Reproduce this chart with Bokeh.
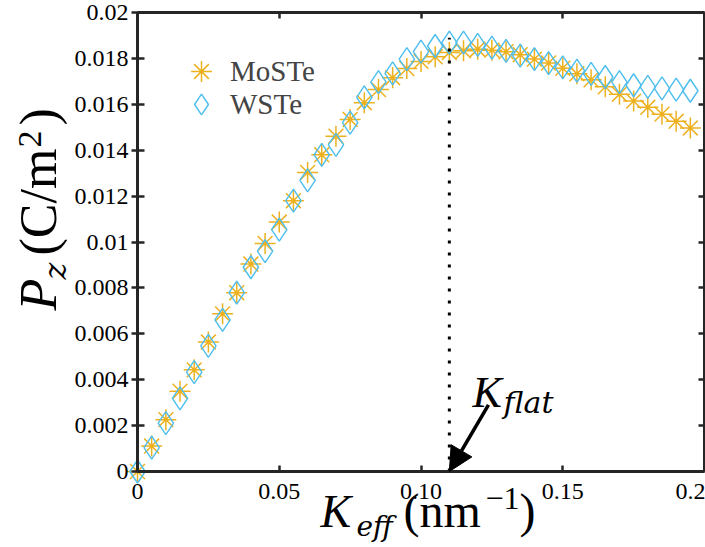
import math
from bokeh.plotting import figure
from bokeh.models import (Range1d, LinearAxis, FixedTicker, Label, Arrow,
                          NormalHead, Legend, LegendItem, CustomLabelingPolicy)
from bokeh.embed import file_html
from bokeh.resources import INLINE

# ---------------- data ----------------
k_eff = [0.000, 0.005, 0.010, 0.015, 0.020, 0.025, 0.030, 0.035, 0.040, 0.045,
         0.050, 0.055, 0.060, 0.065, 0.070, 0.075, 0.080, 0.085, 0.090, 0.095,
         0.100, 0.105, 0.110, 0.115, 0.120, 0.125, 0.130, 0.135, 0.140, 0.145,
         0.150, 0.155, 0.160, 0.165, 0.170, 0.175, 0.180, 0.185, 0.190, 0.195]
p_moste = [0.0, 0.00111, 0.00226, 0.0035, 0.00443, 0.00564, 0.00687, 0.00779, 0.00904, 0.00994,
           0.01087, 0.0118, 0.01303, 0.0138, 0.01461, 0.01534, 0.01607, 0.01664, 0.01716, 0.01756,
           0.01787, 0.01807, 0.01826, 0.01833, 0.0184, 0.01836, 0.01829, 0.01816, 0.01797, 0.0178,
           0.01757, 0.01733, 0.01707, 0.01676, 0.01644, 0.01614, 0.01587, 0.01557, 0.01526, 0.01497]
p_wste = [0.0, 0.00104, 0.00211, 0.00319, 0.00433, 0.00547, 0.00661, 0.00779, 0.0089, 0.0096,
          0.01054, 0.0118, 0.01269, 0.0138, 0.01423, 0.0152, 0.0163, 0.01697, 0.01735, 0.01797,
          0.0183, 0.01854, 0.01869, 0.01869, 0.01859, 0.01847, 0.01833, 0.01812, 0.01797, 0.01779,
          0.01761, 0.01747, 0.01733, 0.01719, 0.01697, 0.01683, 0.01676, 0.01669, 0.01664, 0.01659]
series_names = ["MoSTe", "WSTe"]

x_ticks = [0.0, 0.05, 0.10, 0.15, 0.2]
x_tick_labels = ["0", "0.05", "0.10", "0.15", "0.2"]
y_ticks = [0.0, 0.002, 0.004, 0.006, 0.008, 0.010, 0.012, 0.014, 0.016, 0.018, 0.020]
y_tick_labels = ["0", "0.002", "0.004", "0.006", "0.008", "0.01", "0.012", "0.014",
                 "0.016", "0.018", "0.02"]
x_lim = (0.0, 0.2)
y_lim = (0.0, 0.02)

k_flat = 0.11
k_flat_line_top = 0.0189
arrow_start = (0.1238, 0.0029)

# ---------------- layout / styling ----------------
AX = "#262626"
C_MO = "#EDB120"
C_W = "#4DBEEE"
SERIF = "Liberation Serif"
SUBF = "DejaVu Serif"
W, H = 705, 547
# pixel positions of the axes box on the canvas
BOX_L, BOX_R, BOX_T, BOX_B = 137, 704, 12, 471

xs = (BOX_R - BOX_L) / (x_lim[1] - x_lim[0])
ys = (BOX_B - BOX_T) / (y_lim[1] - y_lim[0])
x_range = Range1d(x_lim[0] - BOX_L / xs, x_lim[1] + (W - BOX_R) / xs)
y_range = Range1d(y_lim[0] - (H - BOX_B) / ys, y_lim[1] + BOX_T / ys)

p = figure(width=W, height=H, x_range=x_range, y_range=y_range, title=None,
           output_backend="svg", toolbar_location=None,
           min_border_left=0, min_border_right=0, min_border_top=0,
           min_border_bottom=0)
p.xgrid.visible = False
p.ygrid.visible = False
p.outline_line_color = None
p.background_fill_color = "white"
p.border_fill_color = "white"


def style_axis(ax, ticks, labels, tin, tout, loc, bounds, show_labels=True, standoff=6):
    ax.fixed_location = loc
    ax.bounds = bounds
    ax.ticker = FixedTicker(ticks=ticks)
    ax.major_label_overrides = {t: l for t, l in zip(ticks, labels)}
    ax.axis_line_color = AX
    ax.axis_line_width = 3
    ax.major_tick_line_color = AX
    ax.major_tick_line_width = 2.5
    ax.major_tick_in = tin
    ax.major_tick_out = tout
    ax.minor_tick_line_color = None
    ax.major_label_text_font = SERIF
    ax.major_label_text_font_size = "24px"
    ax.major_label_text_color = "black"
    ax.major_label_standoff = standoff
    if not show_labels:
        ax.major_label_policy = CustomLabelingPolicy(code="return []")


style_axis(p.xaxis[0], x_ticks, x_tick_labels, 6, 0, y_lim[0], x_lim, True, 12)
style_axis(p.yaxis[0], y_ticks, y_tick_labels, 7, 6, x_lim[0], y_lim, True, 3)
top = LinearAxis()
right = LinearAxis()
style_axis(top, x_ticks, x_tick_labels, 6, 0, y_lim[1], x_lim, False)
style_axis(right, y_ticks, y_tick_labels, 6, 0, x_lim[1], y_lim, False)
p.add_layout(top, "above")
p.add_layout(right, "right")

# ---------------- data marks ----------------
r_mo = p.scatter(k_eff, p_moste, marker="asterisk", size=21, line_color=C_MO,
                 line_width=1.5)
r_w = p.scatter(k_eff, p_wste, marker="diamond", size=23, line_color=C_W,
                fill_color=None, line_width=1.4)

p.line([k_flat, k_flat], [0, k_flat_line_top], line_color="black", line_width=3,
       line_dash="3 9")

p.add_layout(Arrow(end=NormalHead(size=24, fill_color="black", line_color="black"),
                   x_start=arrow_start[0], y_start=arrow_start[1],
                   x_end=k_flat, y_end=0.0, line_width=3.5, line_color="black"))

# legend: one single-entry legend per series so the rows can sit close together
GLYPH_BOX = 52
for name, rend, row_center in zip(series_names, [r_mo, r_w], [71, 104]):
    lg = Legend(items=[LegendItem(label=name, renderers=[rend])],
                location=(175, H - (row_center + GLYPH_BOX // 2)),
                label_text_font=SERIF, label_text_font_size="29px",
                glyph_width=GLYPH_BOX, glyph_height=GLYPH_BOX, label_standoff=3,
                spacing=0, padding=0, margin=0, border_line_color=None,
                background_fill_alpha=0)
    p.add_layout(lg, "center")

# ---------------- text labels (canvas px from top-left -> screen units) ----------------
BASE_SHIFT = 0.365  # measured offset of the rendered baseline, in em


def lab(text, px, py, size, italic=False, rotated=False, font=SERIF):
    if rotated:
        px = px - BASE_SHIFT * size
        angle = math.pi / 2
    else:
        py = py - BASE_SHIFT * size
        angle = 0.0
    p.add_layout(Label(x=px, y=H - py, x_units="screen", y_units="screen",
                       text=text, text_font=font, text_font_size=f"{size}px",
                       text_font_style="italic" if italic else "normal",
                       text_color="black", text_align="left",
                       text_baseline="alphabetic", angle=angle))


# y-axis label: P_z (C/m^2)   (px = baseline x, py = start y)
lab("P", 57, 310, 52, True, True)
lab("z", 66, 279, 32, True, True, SUBF)
lab("(C/m", 57, 255, 52, False, True)
lab("2", 42, 147, 34, False, True)
lab(")", 57, 125, 52, False, True)

# x-axis label: K_eff (nm^-1)  (px = start x, py = baseline y)
lab("K", 320, 528, 46, True)
lab("eff", 356, 536, 28, True, False, SUBF)
lab("(nm", 403, 528, 48, False)
lab("\u22121", 485, 510, 32, False)
lab(")", 519, 528, 48, False)

# K_flat annotation
lab("K", 472, 408, 44, True)
lab("flat", 503, 413, 30, True, False, SUBF)

open("out.html", "w").write(file_html(p, INLINE))
